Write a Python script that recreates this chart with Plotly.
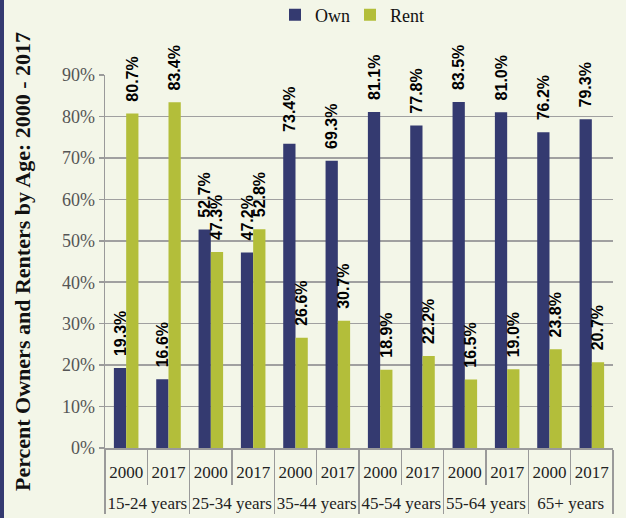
import plotly.graph_objects as go

groups = ["15-24 years", "25-34 years", "35-44 years", "45-54 years", "55-64 years", "65+ years"]
years = ["2000", "2017"]
own = [19.3, 16.6, 52.7, 47.2, 73.4, 69.3, 81.1, 77.8, 83.5, 81.0, 76.2, 79.3]
rent = [80.7, 83.4, 47.3, 52.8, 26.6, 30.7, 18.9, 22.2, 16.5, 19.0, 23.8, 20.7]
y_ticks = [0, 10, 20, 30, 40, 50, 60, 70, 80, 90]

# inner labels get an invisible tiny second line so the group row sits lower
spacer = "<br><span style='font-size:1px'>\u00a0</span>"
x_outer = [g for g in groups for _ in years]
x_inner = [y + spacer for _ in groups for y in years]

W, H = 626, 518
ML, MR, MT, MB = 105, 13, 75, 70
PW = W - ML - MR
PH = H - MT - MB

serif = "Liberation Serif"
lab_font = dict(family="Liberation Sans", size=16, color="#000000", weight="bold")
pad = "\u00a0\u00a0"

fig = go.Figure()
fig.add_trace(go.Bar(
    x=[x_outer, x_inner], y=own, name="Own",
    marker=dict(color="#343a70", line=dict(width=0)),
    text=[f"{pad}{v:.1f}%" for v in own], textposition="outside", textangle=-90,
    textfont=lab_font, constraintext="none", cliponaxis=False, hoverinfo="skip",
))
fig.add_trace(go.Bar(
    x=[x_outer, x_inner], y=rent, name="Rent",
    marker=dict(color="#b3be3a", line=dict(width=0)),
    text=[f"{pad}{v:.1f}%" for v in rent], textposition="outside", textangle=-90,
    textfont=lab_font, constraintext="none", cliponaxis=False, hoverinfo="skip",
))

fig.update_layout(
    width=W, height=H,
    margin=dict(l=ML, r=MR, t=MT, b=MB, pad=0, autoexpand=False),
    paper_bgcolor="#f3f6e8", plot_bgcolor="#f3f6e8",
    barmode="group", bargap=0.42, bargroupgap=0,
    showlegend=True,
    legend=dict(orientation="h", x=0.5 - 9 / PW, xanchor="center", y=1 + 60 / PH, yanchor="middle",
                font=dict(family=serif, size=18, color="#111111"), bgcolor="rgba(0,0,0,0)",
                itemwidth=30, entrywidth=30, entrywidthmode="pixels", tracegroupgap=0),
    font=dict(family=serif),
    xaxis=dict(
        type="multicategory", automargin=False, tickangle=0,
        showline=True, linecolor="#9a9a9a", linewidth=1.5,
        ticks="outside", ticklen=35, tickcolor="#9a9a9a", tickwidth=1.5,
        tickson="boundaries", ticklabelstandoff=8,
        showdividers=True, dividercolor="#9a9a9a", dividerwidth=1.5,
        tickfont=dict(family=serif, size=17, color="#222222"),
        showgrid=False,
    ),
    yaxis=dict(
        automargin=False,
        range=[0, 90], tickvals=y_ticks, ticktext=[f"{v}%" for v in y_ticks],
        showgrid=True, gridcolor="#a0a0a0", gridwidth=1.5,
        showline=True, linecolor="#9a9a9a", linewidth=1.5,
        ticks="outside", ticklen=5, tickcolor="#9a9a9a", tickwidth=1.5,
        tickfont=dict(family=serif, size=18, color="#555555"),
        zeroline=False,
        title=dict(text="<b>Percent Owners and Renters by Age: 2000 - 2017</b>",
                   font=dict(family=serif, size=22, color="#111111"), standoff=25),
    ),
    shapes=[dict(type="rect", xref="paper", yref="paper",
                 x0=-ML / PW, x1=-(ML - 4) / PW, y0=-MB / PH, y1=1 + MT / PH,
                 fillcolor="#343a70", line=dict(width=0), layer="above")],
)

fig.write_html("out.html", config={"displayModeBar": False, "staticPlot": True},
               post_script="document.body.style.margin='0';document.body.style.background='#f3f6e8';")
